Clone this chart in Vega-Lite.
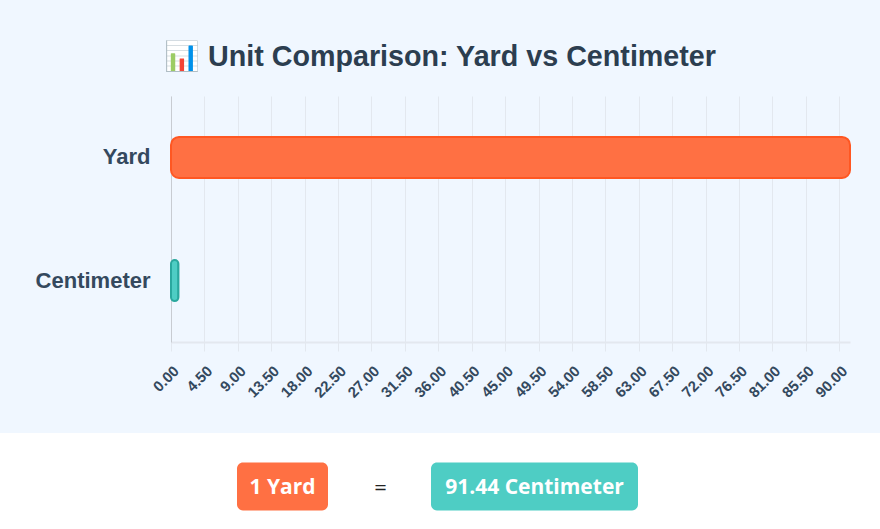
{
  "$schema": "https://vega.github.io/schema/vega-lite/v6.json",
  "background": "#f0f7ff",
  "padding": {"top": 43, "left": 0, "right": 0, "bottom": 0},
  "spacing": 0,
  "vconcat": [
    {
      "width": 880,
      "height": 246,
      "title": {
        "text": "📊 Unit Comparison: Yard vs Centimeter",
        "font": "Liberation Sans",
        "fontSize": 28.7,
        "fontWeight": "bold",
        "color": "#2c3e50",
        "anchor": "middle",
        "frame": "group",
        "offset": 24
      },
      "data": {
        "values": [
          {"unit": "Yard", "value": 91.44},
          {"unit": "Centimeter", "value": 1}
        ]
      },
      "mark": {"type": "bar", "cornerRadius": 8, "strokeWidth": 2},
      "encoding": {
        "y": {
          "field": "unit",
          "type": "nominal",
          "sort": null,
          "scale": {"paddingInner": 0.667, "paddingOuter": 0.333},
          "axis": {
            "title": null,
            "ticks": false,
            "offset": -171,
            "labelPadding": 21,
            "labelFont": "Liberation Sans",
            "labelFontSize": 22,
            "labelFontWeight": "bold",
            "labelColor": "#34495e",
            "domainColor": "#c8ccd2",
            "grid": false
          }
        },
        "x": {
          "field": "value",
          "type": "quantitative",
          "scale": {"domain": [0, 91.44], "nice": false, "range": [171, 850]},
          "axis": {
            "title": null,
            "values": [0, 4.5, 9, 13.5, 18, 22.5, 27, 31.5, 36, 40.5, 45, 49.5, 54, 58.5, 63, 67.5, 72, 76.5, 81, 85.5, 90],
            "format": ".2f",
            "labelAngle": -45,
            "labelFont": "Liberation Sans",
            "labelFontSize": 15,
            "labelFontWeight": "bold",
            "labelColor": "#34495e",
            "labelPadding": 12,
            "labelOverlap": false,
            "gridColor": "#e3e8ef",
            "tickColor": "#e3e8ef",
            "tickSize": 9,
            "domainColor": "#e3e8ef",
            "domainWidth": 2,
            "minExtent": 91,
            "maxExtent": 91
          }
        },
        "fill": {
          "field": "unit",
          "type": "nominal",
          "scale": {"domain": ["Yard", "Centimeter"], "range": ["#ff7043", "#4ecdc4"]},
          "legend": null
        },
        "stroke": {
          "field": "unit",
          "type": "nominal",
          "scale": {"domain": ["Yard", "Centimeter"], "range": ["#ff5722", "#2aa89e"]},
          "legend": null
        }
      }
    },
    {
      "width": 880,
      "height": 97,
      "view": {"fill": "#ffffff", "stroke": null},
      "data": {
        "values": [
          {"label": "1 Yard", "kind": "box1"},
          {"label": "=", "kind": "eq"},
          {"label": "91.44 Centimeter", "kind": "box2"}
        ]
      },
      "encoding": {
        "x": {
          "field": "label",
          "type": "nominal",
          "scale": {"type": "point", "padding": 0, "domain": ["1 Yard", "=", "91.44 Centimeter"], "range": [282.5, 534.5]},
          "axis": null
        },
        "y": {"datum": "equation", "type": "nominal", "axis": null}
      },
      "layer": [
        {
          "transform": [{"filter": "datum.kind == 'box1'"}],
          "mark": {"type": "bar", "width": 91, "height": 48, "cornerRadius": 6, "color": "#ff7043", "yOffset": 5}
        },
        {
          "transform": [{"filter": "datum.kind == 'box2'"}],
          "mark": {"type": "bar", "width": 207, "height": 48, "cornerRadius": 6, "color": "#4ecdc4", "yOffset": 5}
        },
        {
          "transform": [{"filter": "datum.kind != 'eq'"}],
          "mark": {"type": "text", "font": "Open Sans", "fontSize": 21, "fontWeight": "bold", "color": "#ffffff", "yOffset": 6},
          "encoding": {"text": {"field": "label"}}
        },
        {
          "transform": [{"filter": "datum.kind == 'eq'"}],
          "mark": {"type": "text", "font": "Open Sans", "fontSize": 22, "color": "#222222", "dx": -28, "yOffset": 6},
          "encoding": {"text": {"field": "label"}}
        }
      ]
    }
  ],
  "config": {
    "view": {"stroke": null}
  }
}
